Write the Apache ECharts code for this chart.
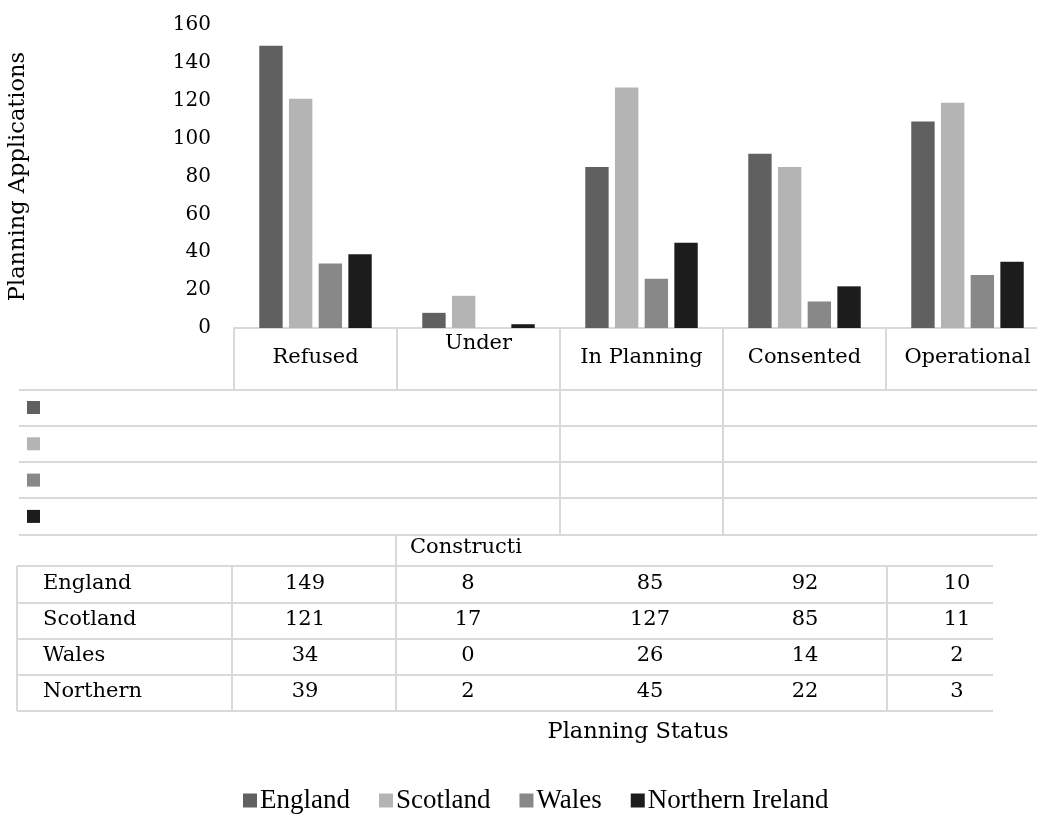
<!DOCTYPE html>
<html>
<head>
<meta charset="utf-8">
<script src="https://cdn.jsdelivr.net/npm/echarts@6/dist/echarts.min.js"></script>
<style>
  html, body { margin: 0; padding: 0; background: #fff; }
  #chart { width: 1037px; height: 819px; }
</style>
</head>
<body>
<div id="chart"></div>
<script>
// Planning status of applications by nation
const categories = ['Refused', 'Under Construction', 'In Planning', 'Consented', 'Operational'];
const seriesNames = ['England', 'Scotland', 'Wales', 'Northern Ireland'];
const england = [149, 8, 85, 92, 109];
const scotland = [121, 17, 127, 85, 119];
const wales = [34, 0, 26, 14, 28];
const northernIreland = [39, 2, 45, 22, 35];
const yMin = 0, yMax = 160, yStep = 20;

const seriesValues = [england, scotland, wales, northernIreland];
const colors = ['#606060', '#b4b4b4', '#888888', '#1c1c1c'];

const FONT = 'DejaVu Serif';
const LINE = '#d9d9d9';

const chart = echarts.init(document.getElementById('chart'), null, { renderer: 'canvas' });

// grid / table line helpers
function hLine(y, x1, x2) {
  return { type: 'line', silent: true, shape: { x1: x1, y1: y, x2: x2, y2: y },
           style: { stroke: LINE, lineWidth: 2 } };
}
function vLine(x, y1, y2) {
  return { type: 'line', silent: true, shape: { x1: x, y1: y1, x2: x, y2: y2 },
           style: { stroke: LINE, lineWidth: 2 } };
}
function label(text, x, y, extra) {
  return { type: 'text', silent: true,
           style: Object.assign({ text: text, x: x, y: y, font: '21px "' + FONT + '"',
                                  fill: '#000', align: 'center', verticalAlign: 'middle' }, extra || {}) };
}

const graphics = [];

// legend-key rows under the axis labels
const keyRowsY = [390, 426, 462, 498, 535];
keyRowsY.forEach(y => graphics.push(hLine(y, 19, 1037)));
graphics.push(vLine(560, 390, 535), vLine(723, 390, 535));
colors.forEach((c, i) => {
  graphics.push({ type: 'rect', silent: true,
                  shape: { x: 27, y: 401 + i * 36.3, width: 13, height: 13 },
                  style: { fill: c } });
});

// spill-over line of the wrapped "Under Construction" label
graphics.push(vLine(396, 535, 566));
graphics.push(label(categories[1].split(' ')[1], 410, 548,
  { align: 'left', width: 121, overflow: 'truncate', ellipsis: '' }));

// data table
const tableRowsY = [566, 603, 639, 675, 711];
tableRowsY.forEach(y => graphics.push(hLine(y, 17, 993)));
[17, 232, 396, 887].forEach(x => graphics.push(vLine(x, 566, 711)));
const cellX = [305, 468, 650, 805, 957];
// the last column is too narrow and loses each entry's final digit
const cellText = (v, col) => col === categories.length - 1 ? String(v).slice(0, -1) : String(v);
seriesNames.forEach((name, r) => {
  const cy = (tableRowsY[r] + tableRowsY[r + 1]) / 2 - 1;
  graphics.push(label(name, 43, cy,
    { align: 'left', width: 120, height: 26, overflow: 'break', lineOverflow: 'truncate' }));
  seriesValues[r].forEach((v, c) => graphics.push(label(cellText(v, c), cellX[c], cy)));
});

// category axis title
graphics.push(label('Planning Status', 638, 732, { font: '22.5px "' + FONT + '"' }));

const option = {
  animation: false,
  backgroundColor: '#ffffff',
  color: colors,
  textStyle: { fontFamily: FONT, color: '#000' },
  grid: { left: 234, right: -12, top: 25, bottom: 491, containLabel: false, outerBoundsMode: 'none' },
  legend: {
    data: seriesNames,
    left: 238,
    top: 782,
    icon: 'rect',
    itemWidth: 14,
    itemHeight: 14,
    itemGap: 29,
    textStyle: { fontFamily: 'Liberation Serif', fontSize: 27, color: '#000', padding: [0, 0, 0, -2] }
  },
  xAxis: {
    type: 'category',
    data: categories,
    boundaryGap: true,
    axisLine: { show: true, lineStyle: { color: LINE, width: 2 } },
    axisTick: { show: true, interval: 0, length: 62, lineStyle: { color: LINE, width: 2 } },
    axisLabel: {
      interval: 0,
      margin: 30,
      verticalAlign: 'middle',
      lineHeight: 28,
      fontFamily: FONT,
      fontSize: 21,
      color: '#000',
      // "Under Construction" wraps; only its first line stays in the header cell
      formatter: v => v.indexOf(' ') > 0 && v.length > 12 ? v.split(' ')[0] + '\n\u00a0' : v
    },
    splitLine: { show: false }
  },
  yAxis: {
    type: 'value',
    min: yMin,
    max: yMax,
    interval: yStep,
    name: 'Planning Applications',
    nameLocation: 'middle',
    nameGap: 204,
    nameRotate: 90,
    nameTextStyle: { fontFamily: FONT, fontSize: 22.5, color: '#000' },
    axisLine: { show: false },
    axisTick: { show: false },
    splitLine: { show: false },
    axisLabel: { margin: 23, fontFamily: FONT, fontSize: 20, color: '#000', padding: [4, 0, 0, 0] }
  },
  series: seriesNames.map((name, i) => ({
    name: name,
    type: 'bar',
    data: seriesValues[i],
    barGap: '27%',
    barCategoryGap: '31%',
    itemStyle: { color: colors[i] }
  })),
  graphic: graphics
};

chart.setOption(option);
</script>
</body>
</html>
